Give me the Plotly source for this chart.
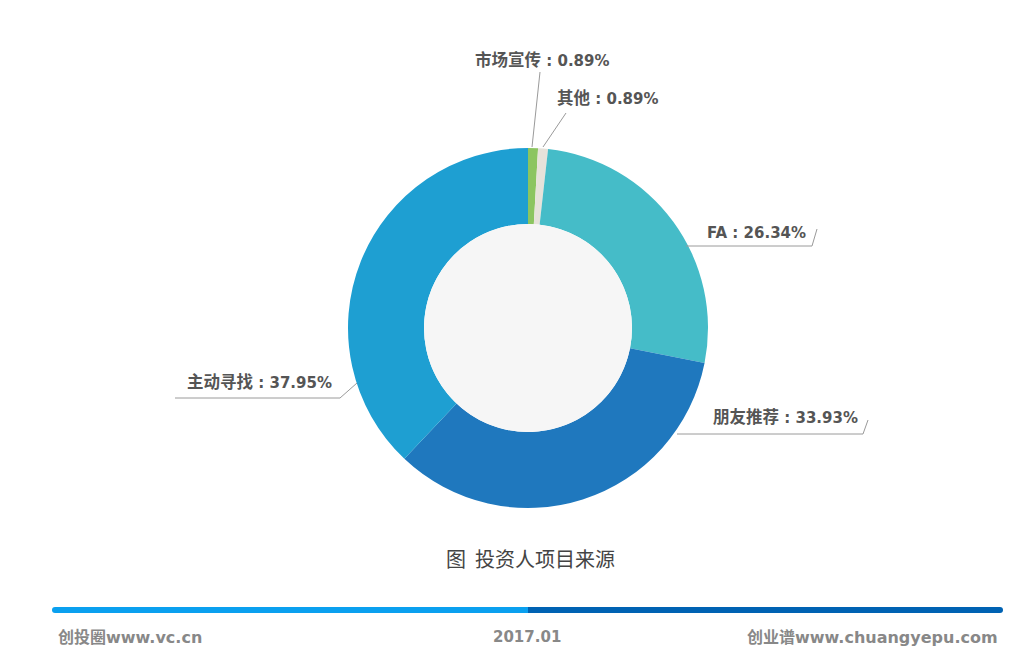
import plotly.graph_objects as go

labels = ["市场宣传", "其他", "FA", "朋友推荐", "主动寻找"]
values = [0.89, 0.89, 26.34, 33.93, 37.95]
colors = ["#8cc560", "#e6e2da", "#45bcc8", "#1f78be", "#1e9fd2"]

title_text = "图  投资人项目来源"
footer_left = "创投圈www.vc.cn"
footer_mid = "2017.01"
footer_right = "创业谱www.chuangyepu.com"

W, H = 1024, 657
CX, CY, R_OUT, R_IN = 528, 328, 180, 104


def px(x, y):
    return x / W, 1 - y / H


fig = go.Figure(go.Pie(
    labels=labels, values=values, sort=False, direction="clockwise", rotation=0,
    hole=R_IN / R_OUT, marker=dict(colors=colors, line=dict(width=0)),
    textinfo="none", hoverinfo="label+percent", showlegend=False,
    domain=dict(x=[(CX - R_OUT) / W, (CX + R_OUT) / W],
                y=[1 - (CY + R_OUT) / H, 1 - (CY - R_OUT) / H]),
))

shapes = []
# inner light disc
x0, y1 = px(CX - R_IN, CY - R_IN)
x1, y0 = px(CX + R_IN, CY + R_IN)
shapes.append(dict(type="circle", xref="paper", yref="paper", x0=x0, x1=x1, y0=y0, y1=y1,
                   fillcolor="#f6f6f6", line=dict(width=0), layer="above"))


def polyline(pts, color="#9a9a9a"):
    path = ""
    for i, (x, y) in enumerate(pts):
        X, Y = px(x, y)
        path += ("M" if i == 0 else "L") + f"{X},{Y} "
    shapes.append(dict(type="path", xref="paper", yref="paper", path=path,
                       line=dict(color=color, width=1)))


polyline([(532, 147), (540, 72)])
polyline([(543, 147), (566, 113)])
polyline([(686, 246), (812, 246), (817, 229)])
polyline([(677, 434), (863, 434), (868, 420)])
polyline([(357, 383), (340, 398), (175, 398)])

# footer bar
bar_y0, bar_y1 = 607, 613
for xa, xb, col in [(55, 528, "#0aa0ef"), (528, 1000, "#0062b3")]:
    a0, b1 = px(xa, bar_y0)
    a1, b0 = px(xb, bar_y1)
    shapes.append(dict(type="rect", xref="paper", yref="paper", x0=a0, x1=a1, y0=b0, y1=b1,
                       fillcolor=col, line=dict(width=0)))
for xc, col in [(55, "#0aa0ef"), (1000, "#0062b3")]:
    a0, b1 = px(xc - 3, bar_y0)
    a1, b0 = px(xc + 3, bar_y1)
    shapes.append(dict(type="circle", xref="paper", yref="paper", x0=a0, x1=a1, y0=b0, y1=b1,
                       fillcolor=col, line=dict(width=0)))

font_mix = "DejaVu Sans, Noto Sans CJK SC, sans-serif"
font_cjk = "Noto Sans CJK SC, sans-serif"
lab_color = "#555555"
annotations = []


def ann(text, x, y, xanchor="left", size=15, color=lab_color, family=font_mix):
    X, Y = px(x, y)
    annotations.append(dict(text=text, x=X, y=Y,
                            xref="paper", yref="paper", xanchor=xanchor, yanchor="middle",
                            showarrow=False, font=dict(family=family, size=size, color=color)))


def fmt(i):
    name = labels[i]
    if any(ord(c) > 255 for c in name):
        name = f'<span style="font-size:16.5px">{name}</span>'
    return f"<b>{name} : {values[i]:.2f}%</b>"


ann(fmt(0), 473, 60)
ann(fmt(1), 555, 99)
ann(fmt(2), 705, 233)
ann(fmt(3), 711, 417)
ann(fmt(4), 185, 382)

ann(title_text, 530, 558, xanchor="center", size=20, color="#444444", family=font_cjk)
ann(f"<b>{footer_left}</b>", 56, 637, size=16, color="#888888")
ann(f"<b>{footer_mid}</b>", 527, 637, xanchor="center", size=15, color="#888888")
ann(f"<b>{footer_right}</b>", 1000, 637, xanchor="right", size=16, color="#888888")

fig.update_layout(width=W, height=H, margin=dict(l=0, r=0, t=0, b=0),
                  paper_bgcolor="white", plot_bgcolor="white",
                  shapes=shapes, annotations=annotations)

fig.write_html("out.html")
